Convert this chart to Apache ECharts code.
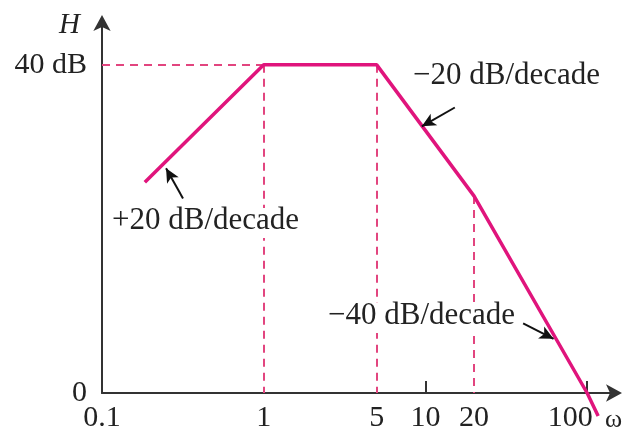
<!DOCTYPE html>
<html>
<head>
<meta charset="utf-8">
<script src="https://cdn.jsdelivr.net/npm/echarts@6/dist/echarts.min.js"></script>
<style>html,body{margin:0;padding:0;background:#fff}#c{width:624px;height:434px}</style>
</head>
<body>
<div id="c"></div>
<script>
// Asymptotic Bode magnitude (omega, dB)
const omega = [0.184, 1, 5, 20, 100, 117];
const magnitude = [25.7, 40, 40, 24, 0, -2.8];

// Guide (dashed) lines: pairs of [omega, dB]
const guideLines = [
  [[0.1, 40], [1, 40]],
  [[1, 40], [1, 0]],
  [[5, 40], [5, 0]],
  [[20, 24], [20, 0]]
];

// Slope annotation arrows: tail -> head, [omega, dB]
const arrowLines = [
  [[0.317, 23.7], [0.249, 27.4]],
  [[15.2, 34.8], [9.5, 32.5]],
  [[40.2, 8.5], [62, 6.6]]
];
const slopeLabels = ['+20 dB/decade', '\u221220 dB/decade', '\u221240 dB/decade'];

const xTickValues = [0.1, 1, 5, 10, 20, 100];
const xTickLabels = ['0.1', '1', '5', '10', '20', '100'];
const xTickMarks = [10, 100];
const yTickValues = [0, 40];
const yTickLabels = ['0', '40 dB'];

const serif = '"Liberation Serif", "DejaVu Serif", serif';
const lineColor = '#e0147c';
const guideColor = '#e2457f';

function labelGroup(text, left, top) {
  return {
    type: 'group', left: left, top: top, z: 10,
    children: [
      {type: 'rect', z: 10, shape: {x: 0, y: 3, width: 190, height: 30}, style: {fill: '#fff'}},
      {type: 'text', z: 11, x: 2, y: 0, style: {text: text, font: '31px ' + serif, fill: '#222'}}
    ]
  };
}

const chart = echarts.init(document.getElementById('c'), null, {renderer: 'canvas'});
chart.setOption({
  backgroundColor: '#fff',
  animation: false,
  grid: {left: 102, right: 10, top: 23, bottom: 41, containLabel: false, outerBoundsMode: 'none'},
  xAxis: {
    type: 'log',
    logBase: 10,
    min: 0.1,
    max: 146.6,
    name: '\u03c9',
    nameLocation: 'end',
    nameGap: -9,
    nameTextStyle: {fontFamily: serif, fontSize: 26, color: '#222', verticalAlign: 'top', align: 'left', padding: [14, 0, 0, 0]},
    axisLine: {show: true, symbol: ['none', 'arrow'], symbolSize: [13, 16], symbolOffset: [0, 8], lineStyle: {color: '#333', width: 2}},
    axisTick: {show: true, inside: true, length: 12, customValues: xTickMarks, lineStyle: {color: '#333', width: 2}},
    axisLabel: {
      show: true, customValues: xTickValues, margin: 10,
      fontFamily: serif, fontSize: 30, color: '#222',
      rich: {shift: {fontFamily: serif, fontSize: 30, color: '#222', padding: [0, 34, 0, 0]}},
      formatter: function (v) {
        const i = xTickValues.findIndex(t => Math.abs(t - v) < 1e-6 * t);
        if (i < 0) return '';
        return i === xTickValues.length - 1 ? '{shift|' + xTickLabels[i] + '}' : xTickLabels[i];
      }
    },
    splitLine: {show: false},
    minorTick: {show: false}
  },
  yAxis: {
    type: 'value',
    min: 0,
    max: 45.1,
    name: 'H',
    nameLocation: 'end',
    nameGap: -17,
    nameTextStyle: {fontFamily: serif, fontSize: 29, fontStyle: 'italic', color: '#222', align: 'right', padding: [0, 22, 0, 0]},
    axisLine: {show: true, symbol: ['none', 'arrow'], symbolSize: [13, 16], symbolOffset: [0, 8], lineStyle: {color: '#333', width: 2}},
    axisTick: {show: false},
    axisLabel: {
      show: true, customValues: yTickValues, margin: 15,
      fontFamily: serif, fontSize: 30, color: '#222',
      formatter: function (v) { const i = yTickValues.indexOf(v); return i >= 0 ? yTickLabels[i] : ''; }
    },
    splitLine: {show: false}
  },
  series: [
    {
      type: 'line',
      name: 'guides',
      data: [],
      silent: true,
      z: 1,
      markLine: {
        silent: true,
        z: 1,
        symbol: ['none', 'none'],
        label: {show: false},
        lineStyle: {color: guideColor, type: [8, 6], width: 2},
        data: guideLines.map(p => [{coord: p[0]}, {coord: p[1]}])
      }
    },
    {
      type: 'line',
      name: 'H',
      data: omega.map((w, i) => [w, magnitude[i]]),
      showSymbol: false,
      clip: false,
      z: 5,
      lineStyle: {color: lineColor, width: 3.5},
      markLine: {
        silent: true,
        z: 20,
        symbol: ['none', 'arrow'],
        symbolSize: [10, 14],
        label: {show: false},
        lineStyle: {color: '#111', type: 'solid', width: 2},
        data: arrowLines.map(p => [{coord: p[0]}, {coord: p[1]}])
      }
    }
  ],
  graphic: {
    elements: [
      labelGroup(slopeLabels[0], 110, 205),
      labelGroup(slopeLabels[1], 411, 60),
      labelGroup(slopeLabels[2], 326, 300)
    ]
  }
});
</script>
</body>
</html>
